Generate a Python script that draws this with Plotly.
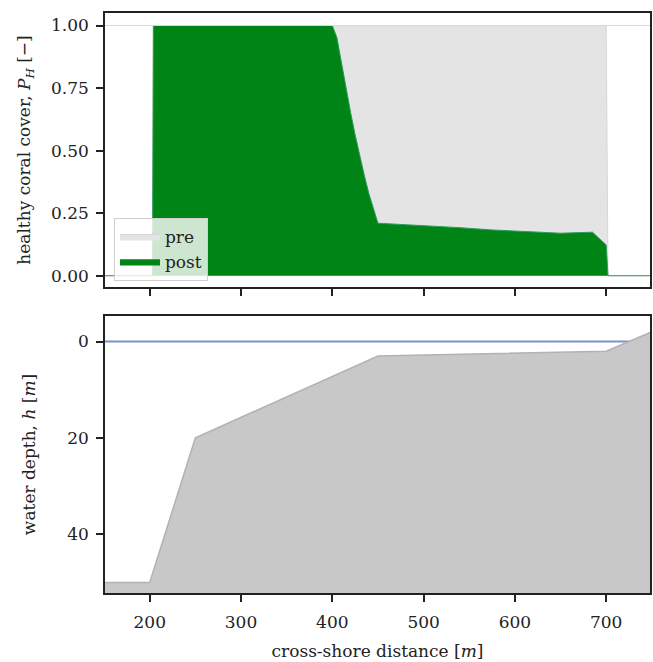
import plotly.graph_objects as go
from plotly.subplots import make_subplots

# ---- data ----
# healthy coral cover profile (cross-shore distance [m])
cover_x = [150, 203, 204, 400, 405, 410, 415, 420, 425, 430, 435, 440, 445, 450,
           540, 575, 650, 685, 700, 702, 750]
pre_cover = [0, 0, 1, 1, 1, 1, 1, 1, 1, 1, 1, 1, 1, 1,
             1, 1, 1, 1, 1, 0, 0]
post_cover = [0, 0, 1, 1, 0.952, 0.85, 0.75, 0.653, 0.563, 0.48, 0.402, 0.329, 0.267, 0.21,
              0.192, 0.183, 0.170, 0.174, 0.123, 0, 0]
pre_reference = 1.0

# bed profile (water depth, positive down)
bed_x = [150, 200, 250, 450, 700, 750]
bed_depth = [50, 50, 20, 3, 2, -2]
sea_level = 0.0
floor_depth = 60.0

x_ticks = [200, 300, 400, 500, 600, 700]
cover_ticks = [0.0, 0.25, 0.5, 0.75, 1.0]
depth_ticks = [0, 20, 40]

FONT = "DejaVu Serif"
GREEN = "#008416"
PRE_GRAY = "#e4e4e4"
BED_GRAY = "#c8c8c8"
INK = "#222222"

fig = make_subplots(rows=2, cols=1, shared_xaxes=False, vertical_spacing=0.05)

# top panel
fig.add_trace(go.Scatter(x=cover_x, y=pre_cover, fill="tozeroy", mode="lines",
                         fillcolor=PRE_GRAY, line=dict(color="#d6d6d6", width=1),
                         name="pre"), row=1, col=1)
fig.add_trace(go.Scatter(x=cover_x, y=post_cover, fill="tozeroy", mode="lines",
                         fillcolor=GREEN, line=dict(color="#2e9a5c", width=1),
                         name="post"), row=1, col=1)
fig.add_trace(go.Scatter(x=[cover_x[0], cover_x[-1]], y=[pre_reference, pre_reference],
                         mode="lines", line=dict(color="#d8d8d8", width=1),
                         showlegend=False, hoverinfo="skip"), row=1, col=1)

# bottom panel
fig.add_trace(go.Scatter(x=[bed_x[0], bed_x[-1]], y=[sea_level, sea_level], mode="lines",
                         line=dict(color="#7b8fd0", width=2), showlegend=False), row=2, col=1)
fig.add_trace(go.Scatter(x=bed_x, y=[floor_depth] * len(bed_x), mode="lines",
                         line=dict(width=0, color=BED_GRAY), showlegend=False,
                         hoverinfo="skip"), row=2, col=1)
fig.add_trace(go.Scatter(x=bed_x, y=bed_depth, mode="lines", fill="tonexty",
                         fillcolor=BED_GRAY, line=dict(color="#b2b2b2", width=1.5),
                         showlegend=False), row=2, col=1)

axis_common = dict(showline=True, linecolor=INK, linewidth=1.5, mirror=True,
                   ticks="outside", ticklen=7, tickwidth=1.5, tickcolor=INK,
                   showgrid=False, zeroline=False,
                   tickfont=dict(family=FONT, size=17, color=INK))

fig.update_xaxes(range=[151, 748], tickvals=x_ticks, ticklabelstandoff=6, **axis_common)
fig.update_xaxes(showticklabels=False, row=1, col=1)
fig.update_xaxes(title=dict(text="cross-shore distance [<i>m</i>]",
                            font=dict(family=FONT, size=17, color=INK), standoff=14),
                 row=2, col=1)

fig.update_yaxes(ticklabelstandoff=4, **axis_common)
fig.update_yaxes(range=[-0.045, 1.05], tickvals=cover_ticks, tickformat=".2f",
                 title=dict(text="healthy coral cover, <i>P<sub>H</sub></i> [−]",
                            font=dict(family=FONT, size=17, color=INK), standoff=16),
                 row=1, col=1)
fig.update_yaxes(range=[52.2, -5.3], tickvals=depth_ticks,
                 title=dict(text="water depth, <i>h</i> [<i>m</i>]",
                            font=dict(family=FONT, size=17, color=INK), standoff=27),
                 row=2, col=1)

fig.update_layout(
    width=653, height=662,
    margin=dict(l=105, r=1, t=13, b=69),
    plot_bgcolor="white", paper_bgcolor="white",
    yaxis=dict(domain=[0.5276, 1.0]),
    yaxis2=dict(domain=[0.0, 0.4776]),
    legend=dict(x=0.0165, y=0.6466, xanchor="left", yanchor="top",
                bgcolor="rgba(255,255,255,0.8)", bordercolor="#d0d0d0", borderwidth=1,
                font=dict(family=FONT, size=17, color=INK),
                traceorder="normal", tracegroupgap=2, itemwidth=40),
    showlegend=True,
)

fig.write_html("out.html", config={"displayModeBar": False},
               post_script="document.body.style.margin='0';document.body.style.overflow='hidden';")
